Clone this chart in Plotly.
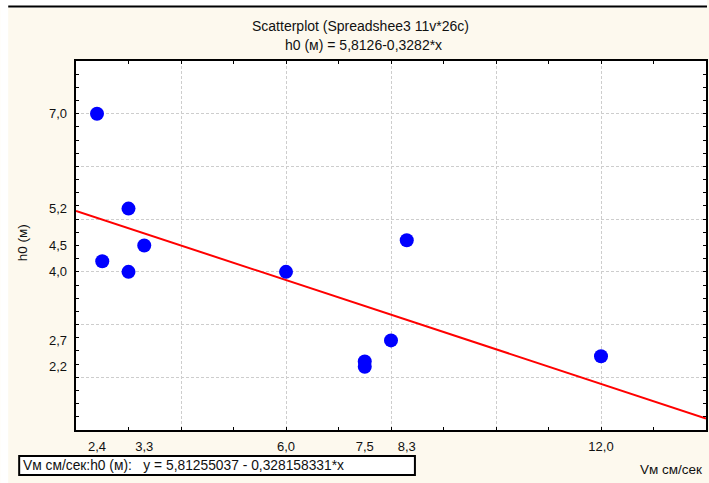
import numpy as np
import plotly.graph_objects as go

# ---- data ----
v_speed = [2.4, 2.5, 3.0, 3.0, 3.3, 6.0, 7.5, 7.5, 8.0, 8.3, 12.0]
h0 = [7.0, 4.2, 5.2, 4.0, 4.5, 4.0, 2.3, 2.2, 2.7, 4.6, 2.4]

x_label_vals = [2.4, 3.3, 6.0, 7.5, 8.3, 12.0]
x_label_text = ["2,4", "3,3", "6,0", "7,5", "8,3", "12,0"]
y_label_vals = [7.0, 5.2, 4.5, 4.0, 2.7, 2.2]
y_label_text = ["7,0", "5,2", "4,5", "4,0", "2,7", "2,2"]

X_RANGE = [2, 14]
Y_RANGE = [1, 8]

title1 = "Scatterplot (Spreadshee3 11v*26c)"
title2 = "h0 (м) = 5,8126-0,3282*x"
eq_text = "Vм см/сек:h0 (м):   y = 5,81255037 - 0,328158331*x"
x_title = "Vм см/сек"
y_title = "h0 (м)"

# regression
slope, intercept = np.polyfit(v_speed, h0, 1)
x_line = np.array(X_RANGE, dtype=float)
y_line = intercept + slope * x_line

# ---- geometry ----
W, H = 709, 483
ML, MR, MT, MB = 76, 1, 61, 53
PW = W - ML - MR
PH = H - MT - MB


def px(p):
    return (p - ML) / PW


def py(q):
    return (H - MB - q) / PH


FONT = "Liberation Sans, Arial, sans-serif"
BEIGE = "#fdf9ee"
GRID = "#cdcdcd"
TXT = "#111111"

fig = go.Figure()

fig.add_trace(go.Scatter(
    x=x_line, y=y_line, mode="lines",
    line=dict(color="#ff0000", width=2), hoverinfo="skip", showlegend=False))
fig.add_trace(go.Scatter(
    x=v_speed, y=h0, mode="markers",
    marker=dict(color="#0000ff", size=14, line=dict(width=0)), showlegend=False))
# invisible trace for label axes
fig.add_trace(go.Scatter(
    x=x_label_vals, y=y_label_vals, xaxis="x2", yaxis="y2", mode="markers",
    marker=dict(opacity=0), hoverinfo="skip", showlegend=False))

axis_common = dict(showline=True, linecolor="black", linewidth=2, mirror="allticks",
                   ticks="inside", ticklen=3, tickcolor="black", tickwidth=1,
                   showticklabels=False, zeroline=False, showgrid=True,
                   gridcolor=GRID, griddash="3px,2px", gridwidth=1)

fig.update_layout(
    width=W, height=H,
    margin=dict(l=ML, r=MR, t=MT, b=MB, pad=0),
    paper_bgcolor=BEIGE, plot_bgcolor="white",
    font=dict(family=FONT, size=13, color=TXT),
    xaxis=dict(range=X_RANGE, dtick=2, tick0=2,
               minor=dict(dtick=1, tick0=2, ticks="inside", ticklen=3, tickcolor="black", showgrid=False),
               **axis_common),
    yaxis=dict(range=Y_RANGE, dtick=1, tick0=1,
               minor=dict(dtick=0.25, tick0=1, ticks="inside", ticklen=3, tickcolor="black", showgrid=False),
               **axis_common),
    xaxis2=dict(range=X_RANGE, overlaying="x", side="bottom", anchor="y2",
                tickmode="array", tickvals=x_label_vals, ticktext=x_label_text,
                ticks="", showgrid=False, showline=False, zeroline=False,
                ticklabelstandoff=7,
                tickfont=dict(size=13, family=FONT, color=TXT)),
    yaxis2=dict(range=Y_RANGE, overlaying="y", side="left", anchor="x2",
                tickmode="array", tickvals=y_label_vals, ticktext=y_label_text,
                ticks="", showgrid=False, showline=False, zeroline=False,
                ticklabelstandoff=8,
                tickfont=dict(size=13, family=FONT, color=TXT)),
    showlegend=False,
)

shapes = [
    # white strips at top/left
    dict(type="rect", xref="paper", yref="paper", x0=px(0), x1=px(8), y0=py(H), y1=py(0),
         fillcolor="white", line=dict(width=0), layer="below"),
    dict(type="rect", xref="paper", yref="paper", x0=px(0), x1=px(W), y0=py(8), y1=py(0),
         fillcolor="white", line=dict(width=0), layer="below"),
    # top black rule
    dict(type="line", xref="paper", yref="paper", x0=px(8), x1=px(W), y0=py(6.5), y1=py(6.5),
         line=dict(color="black", width=2)),
    # equation box
    dict(type="rect", xref="paper", yref="paper", x0=px(19), x1=px(416), y0=py(475), y1=py(456),
         fillcolor="white", line=dict(color="black", width=2)),
]
fig.update_layout(shapes=shapes)

annotations = [
    dict(text=title1, xref="paper", yref="paper", x=px(361), y=py(26), showarrow=False,
         xanchor="center", yanchor="middle", font=dict(size=14, family=FONT, color=TXT)),
    dict(text=title2, xref="paper", yref="paper", x=px(364), y=py(45), showarrow=False,
         xanchor="center", yanchor="middle", font=dict(size=14, family=FONT, color=TXT)),
    dict(text=eq_text, xref="paper", yref="paper", x=px(21), y=py(465.5), showarrow=False,
         xanchor="left", yanchor="middle", font=dict(size=13.8, family=FONT, color=TXT)),
    dict(text=x_title, xref="paper", yref="paper", x=px(706), y=py(469), showarrow=False,
         xanchor="right", yanchor="middle", font=dict(size=13.5, family=FONT, color=TXT)),
    dict(text=y_title, xref="paper", yref="paper", x=px(22), y=py(243), showarrow=False,
         textangle=-90, xanchor="center", yanchor="middle", font=dict(size=13.5, family=FONT, color=TXT)),
]
fig.update_layout(annotations=annotations)

fig.write_html("out.html")
